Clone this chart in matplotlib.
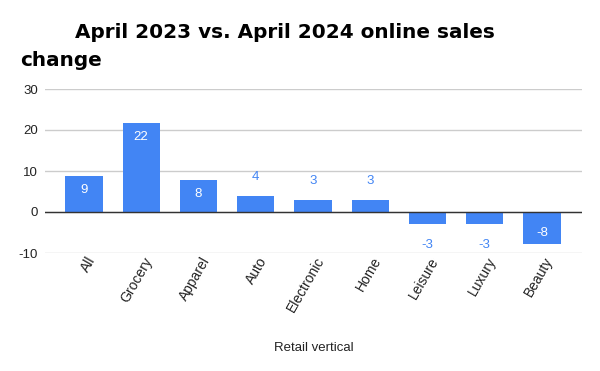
import matplotlib.pyplot as plt
import matplotlib.transforms as mtransforms

categories = ["All", "Grocery", "Apparel", "Auto", "Electronic", "Home", "Leisure", "Luxury", "Beauty"]
values = [8.8, 21.7, 7.9, 3.9, 2.9, 2.9, -2.9, -2.9, -7.8]
labels = ["9", "22", "8", "4", "3", "3", "-3", "-3", "-8"]
yticks = [-10, 0, 10, 20, 30]

BLUE = "#4285F4"
plt.rcParams['font.family'] = ['Liberation Sans', 'DejaVu Sans']

fig = plt.figure(figsize=(6, 3.71), dpi=100)
ax = fig.add_axes([45 / 600, 1 - 253 / 371, 537 / 600, 164 / 371])

x = range(len(categories))
ax.bar(x, values, width=0.65, color=BLUE, zorder=3)

for i, (v, lab) in enumerate(zip(values, labels)):
  if abs(v) >= 5:
    off = -3.4 if v > 0 else 2.7
    ax.text(i, v + off, lab, ha="center", va="center", color="white", fontsize=9.5, zorder=4)
  else:
    off = 4.6 if v > 0 else -5.1
    ax.text(i, v + off, lab, ha="center", va="center", color=BLUE, fontsize=9.5, zorder=4)

ax.set_xlim(-0.68, 8.7)
ax.set_ylim(-10, 30)
ax.set_yticks(yticks)
ax.set_yticklabels([str(t) for t in yticks], fontsize=9.5, color="#222222")
ax.set_xticks(list(x))
ax.set_xticklabels(categories, rotation=60, ha="right", rotation_mode="anchor", fontsize=10, color="#222222")
ax.tick_params(axis="y", length=0, pad=5)
ax.tick_params(axis="x", length=0, pad=1)
shift = mtransforms.ScaledTranslation(2 / 100, 0, fig.dpi_scale_trans)
for t in ax.get_xticklabels():
  t.set_transform(t.get_transform() + shift)
ax.grid(axis="y", color="#cccccc", linewidth=1, zorder=0)
ax.axhline(0, color="#333333", linewidth=1, zorder=3.5)
for s in ax.spines.values():
  s.set_visible(False)

ax.set_xlabel("Retail vertical", fontsize=9.5, color="#222222", labelpad=20)

fig.text(75 / 600, 1 - 33 / 371, "April 2023 vs. April 2024 online sales", fontsize=14.4,
  fontweight="bold", family="DejaVu Sans", va="center", ha="left")
fig.text(20 / 600, 1 - 60 / 371, "change", fontsize=14.4,
  fontweight="bold", family="DejaVu Sans", va="center", ha="left")

fig.savefig("out.png", dpi=100)
